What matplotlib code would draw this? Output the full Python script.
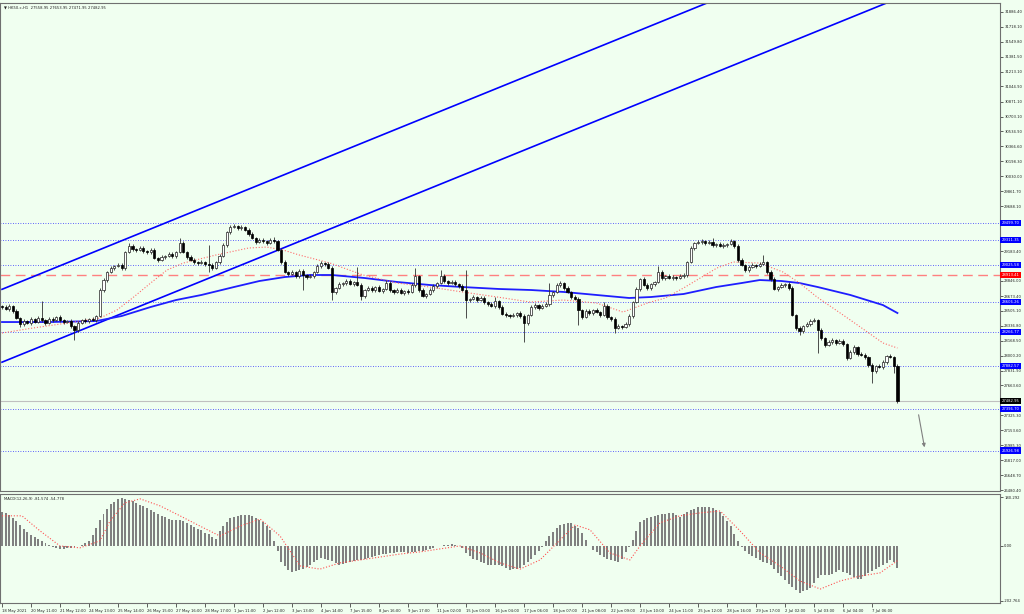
import matplotlib.pyplot as plt
import matplotlib.transforms as mtransforms
import numpy as np

# HK50 H1 candles (one drawn candle per two hours)
first_open = 28560
closes = [
    28550, 28527, 28561, 28505, 28425, 28357, 28391, 28369, 28414, 28380,
    28425, 28403, 28369, 28414, 28403, 28437, 28403, 28380, 28391, 28335,
    28290, 28369, 28403, 28391, 28414, 28403, 28448, 28742, 28855, 28946,
    28991, 29013, 29025, 28991, 29172, 29240, 29206, 29195, 29217, 29184,
    29172, 29195, 29104, 29081, 29115, 29127, 29149, 29127, 29172, 29274,
    29172, 29115, 29081, 29059, 29047, 29059, 29036, 29025, 28991, 29059,
    29127, 29251, 29398, 29455, 29466, 29443, 29455, 29421, 29375, 29330,
    29285, 29308, 29296, 29274, 29308, 29296, 29195, 29059, 28946, 28923,
    28946, 28901, 28957, 28912, 28889, 28901, 28946, 29013, 29047, 29036,
    28991, 28720, 28765, 28810, 28821, 28844, 28810, 28833, 28799, 28674,
    28742, 28765, 28742, 28776, 28731, 28754, 28821, 28742, 28720, 28742,
    28708, 28731, 28720, 28799, 28901, 28742, 28674, 28697, 28742, 28787,
    28821, 28901, 28844, 28821, 28833, 28810, 28787, 28742, 28629, 28640,
    28663, 28629, 28652, 28606, 28584, 28561, 28618, 28550, 28471, 28459,
    28448, 28459, 28482, 28448, 28369, 28459, 28550, 28572, 28539, 28561,
    28584, 28686, 28720, 28799, 28821, 28765, 28720, 28663, 28640, 28516,
    28437, 28505, 28482, 28516, 28493, 28459, 28561, 28437, 28414, 28312,
    28335, 28324, 28357, 28448, 28606, 28754, 28867, 28799, 28765, 28810,
    28833, 28946, 28878, 28901, 28878, 28889, 28878, 28901, 28912, 29059,
    29217, 29274, 29285, 29296, 29274, 29285, 29251, 29262, 29240, 29251,
    29262, 29296, 29240, 29081, 29025, 28968, 29002, 29025, 29013, 29036,
    29059, 28946, 28867, 28754, 28776, 28799, 28810, 28765, 28459, 28312,
    28278, 28335, 28357, 28391, 28403, 28290, 28199, 28120, 28154, 28177,
    28143, 28165, 28131, 27973, 28041, 28098, 28018, 28007, 27984, 27894,
    27826, 27883, 27871, 27928, 27996, 27984, 27883, 27482.95,
]
wick_up = [
    15, 20, 25, 15, 20, 10, 20, 15, 25, 15,
    20, 190, 15, 20, 25, 15, 20, 10, 15, 20,
    15, 20, 10, 25, 15, 20, 15, 20, 25, 15,
    20, 15, 25, 20, 15, 30, 20, 15, 20, 25,
    15, 20, 25, 15, 20, 15, 25, 20, 15, 56,
    20, 15, 25, 20, 15, 20, 15, 215, 20, 15,
    25, 20, 15, 20, 25, 15, 20, 15, 25, 20,
    15, 20, 25, 15, 20, 34, 15, 20, 25, 15,
    20, 15, 20, 25, 15, 20, 15, 25, 20, 15,
    20, 25, 15, 20, 15, 25, 20, 15, 169, 20,
    15, 20, 25, 15, 20, 15, 34, 20, 15, 25,
    20, 15, 20, 25, 90, 15, 20, 15, 25, 20,
    15, 67, 20, 15, 25, 20, 15, 20, 226, 15,
    20, 15, 25, 20, 15, 20, 45, 15, 20, 25,
    15, 20, 15, 25, 20, 15, 20, 25, 15, 20,
    25, 135, 15, 20, 25, 15, 20, 15, 25, 20,
    15, 20, 25, 15, 20, 15, 45, 20, 15, 25,
    20, 15, 20, 25, 15, 20, 15, 25, 20, 15,
    15, 67, 20, 15, 25, 20, 15, 20, 25, 15,
    20, 15, 25, 20, 15, 20, 45, 15, 20, 25,
    15, 20, 15, 25, 20, 15, 20, 25, 15, 20,
    79, 15, 20, 25, 15, 20, 15, 25, 20, 15,
    20, 15, 25, 20, 22, 15, 20, 15, 25, 20,
    15, 20, 25, 15, 20, 22, 15, 20, 25, 15,
    20, 15, 25, 20, 15, 20, 15, 20,
]
wick_dn = [
    20, 15, 20, 25, 15, 30, 20, 15, 20, 15,
    15, 20, 25, 15, 20, 15, 20, 25, 15, 20,
    113, 20, 15, 20, 25, 15, 20, 15, 20, 25,
    15, 20, 15, 25, 20, 15, 20, 25, 15, 20,
    20, 25, 15, 20, 15, 20, 15, 25, 20, 15,
    15, 20, 15, 25, 20, 15, 20, 79, 25, 15,
    20, 15, 25, 20, 15, 20, 25, 15, 20, 15,
    25, 15, 20, 25, 15, 20, 15, 20, 15, 25,
    15, 20, 25, 170, 20, 15, 20, 15, 25, 20,
    15, 91, 20, 15, 25, 20, 15, 20, 15, 45,
    20, 15, 20, 25, 15, 20, 15, 25, 20, 15,
    15, 25, 20, 15, 20, 25, 15, 20, 15, 20,
    20, 15, 25, 20, 15, 20, 25, 15, 204, 20,
    15, 20, 15, 25, 20, 15, 20, 25, 15, 20,
    20, 15, 25, 20, 215, 20, 15, 20, 25, 15,
    15, 20, 25, 15, 20, 25, 15, 20, 15, 170,
    20, 15, 20, 25, 15, 20, 15, 25, 20, 56,
    15, 25, 15, 20, 25, 15, 20, 15, 25, 20,
    20, 15, 25, 20, 15, 20, 25, 15, 20, 25,
    15, 20, 15, 25, 20, 15, 20, 25, 15, 20,
    20, 15, 25, 20, 15, 25, 20, 15, 20, 15,
    15, 20, 25, 15, 20, 15, 25, 20, 15, 20,
    45, 20, 15, 25, 15, 261, 20, 25, 15, 20,
    20, 15, 20, 25, 15, 20, 25, 15, 20, 25,
    136, 20, 15, 25, 20, 15, 79, 20,
]

# moving averages: (candle index, price)
ma_slow_x = [0, 13, 26, 33, 41, 48, 55, 64, 71, 78, 85, 91, 100, 109, 118, 127,
             137, 146, 155, 164, 173, 179, 188, 197, 204, 209, 215, 220, 225, 234, 243, 247]
ma_slow_y = [28380, 28380, 28391, 28448, 28550, 28629, 28686, 28776, 28844, 28889, 28912, 28912,
             28878, 28833, 28799, 28776, 28754, 28742, 28720, 28686, 28652, 28663, 28697, 28776,
             28821, 28855, 28844, 28821, 28776, 28686, 28572, 28482]
ma_fast_x = [0, 8.5, 18, 27, 31.7, 36, 41, 45.5, 50, 59, 68, 73, 77.5, 82, 90.5, 99.6, 109,
             118, 127, 136.6, 145.7, 154.8, 164, 171.3, 178, 183, 188, 192.6, 197.2, 201.7,
             209, 215.4, 220, 224.8, 234, 243, 247]
ma_fast_y = [28256, 28312, 28369, 28425, 28516, 28652, 28821, 28968, 29047, 29138, 29217, 29228,
             29195, 29138, 29047, 28912, 28821, 28776, 28720, 28663, 28606, 28629, 28595, 28493,
             28595, 28652, 28765, 28878, 28991, 29059, 29047, 28946, 28821, 28663, 28403, 28143,
             28086]

# trend channel anchors (candle index, price)
upper_line = [(0, 28750), (200, 32080)]
lower_line = [(0, 27926), (250, 32088)]
arrow_from = (252.7, 27362)
arrow_to = (254.6, 26932)

levels = [29499.70, 29311.35, 29025.58, 28606.26, 28266.77, 27882.57, 27396.70, 26926.98]
red_level = 28913.41
last_price = 27482.95

# price scale labels that are not covered by the level boxes
price_ticks = [31886.40, 31718.10, 31549.80, 31381.50, 31213.10, 31044.90, 30871.10, 30703.10,
               30534.90, 30366.60, 30198.30, 30030.00, 29861.70, 29688.10,
               29183.40, 28846.00, 28673.40, 28505.10, 28336.80, 28168.50, 28000.20,
               27831.90, 27663.60, 27325.30, 27153.60, 26985.30, 26817.00, 26648.70,
               26480.40]

# MACD(12,26,9) main values per candle
macd = [
    127, 122, 116, 104, 91, 78, 64, 51, 40, 32,
    25, 18, 10, 2, -3, -7, -11, -10, -8, -7,
    -4, -1, 3, 10, 17, 40, 68, 96, 117, 137,
    155, 165, 175, 178, 176, 172, 168, 160, 154, 147,
    140, 133, 126, 119, 113, 106, 99, 97, 97, 97,
    91, 84, 77, 71, 64, 58, 50, 43, 32, 26,
    55, 74, 90, 104, 109, 113, 115, 115, 115, 112,
    104, 98, 88, 74, 58, 20, -20, -58, -75, -90,
    -96, -94, -90, -86, -79, -71, -61, -51, -46, -48,
    -51, -56, -63, -70, -68, -64, -60, -57, -54, -51,
    -47, -43, -40, -37, -34, -31, -29, -26, -25, -23,
    -22, -24, -26, -24, -22, -19, -17, -14, -11, -7,
    -2, 1, 3, 5, 6, 3, 1, -8, -28, -38,
    -48, -54, -60, -65, -69, -71, -71, -71, -75, -82,
    -88, -87, -84, -81, -70, -59, -47, -34, -20, -3,
    17, 37, 52, 65, 78, 82, 86, 86, 75, 65,
    47, 23, -2, -15, -24, -33, -40, -47, -53, -56,
    -59, -48, -21, -4, 24, 57, 89, 96, 103, 108,
    111, 114, 117, 120, 124, 121, 115, 109, 117, 127,
    135, 139, 143, 145, 145, 145, 141, 134, 127, 110,
    92, 75, 45, 17, -5, -17, -29, -37, -44, -51,
    -58, -65, -72, -85, -100, -113, -126, -140, -152, -163,
    -174, -169, -162, -155, -137, -120, -108, -108, -108, -104,
    -97, -90, -95, -102, -108, -115, -122, -123, -111, -100,
    -94, -87, -80, -71, -62, -52, -60, -82,
]
signal_x = [0, 5.5, 10.5, 16, 21.5, 27, 29.8, 33.9, 38.1, 43.6, 49.1, 54.6, 60.1, 65.7, 71.2,
            76.7, 82.2, 87.7, 93.2, 98.8, 104.3, 109.8, 115.3, 120.8, 126.3, 131.9, 137.4, 142.9,
            148.4, 153.9, 158.1, 162.2, 167.7, 173.2, 176, 181.5, 187, 192.6, 198.1, 203.6,
            209.1, 214.6, 220.1, 225.7, 231.2, 236.7, 242.2, 247]
signal_y = [112, 112, 56, 0, -7, 19, 93, 160, 175, 149, 112, 74, 37, 74, 100, 37, -74, -86, -63,
            -52, -41, -30, -22, -11, 0, -26, -63, -86, -52, 22, 78, 60, -26, -52, 0, 86, 112,
            123, 130, 56, -26, -74, -130, -160, -130, -112, -100, -54.778]

tick_pos = list(range(0, 241, 8))
tick_labels = ['18 May 2021', '20 May 11:00', '21 May 12:00', '24 May 13:00', '25 May 14:00',
               '26 May 15:00', '27 May 16:00', '28 May 17:00', '1 Jun 11:00', '2 Jun 12:00',
               '3 Jun 13:00', '4 Jun 14:00', '7 Jun 15:00', '8 Jun 16:00', '9 Jun 17:00',
               '11 Jun 02:00', '15 Jun 03:00', '16 Jun 04:00', '17 Jun 06:00', '18 Jun 07:00',
               '21 Jun 08:00', '22 Jun 09:00', '23 Jun 10:00', '24 Jun 11:00', '25 Jun 12:00',
               '28 Jun 16:00', '29 Jun 17:00', '2 Jul 02:00', '5 Jul 03:00', '6 Jul 04:00',
               '7 Jul 06:00']

BG = '#F0FFF0'
FS = 2.7

fig = plt.figure(figsize=(10.24, 6.14), dpi=100, facecolor=BG)
ax = fig.add_axes([0.0, 0.2003, 0.9766, 0.7948], facecolor=BG)
ax2 = fig.add_axes([0.0, 0.0179, 0.9766, 0.1775], facecolor=BG)

for a in (ax, ax2):
    a.set_xlim(-0.55, 275.3)
    for s in a.spines.values():
        s.set_color('#707070')
        s.set_linewidth(0.8)
    a.yaxis.tick_right()
    a.tick_params(axis='y', labelsize=FS, length=2, width=0.5, pad=1, colors='#202020')

ax.set_ylim(26469, 31988)
ax.set_xticks([])
ax.set_yticks(price_ticks)
ax.set_yticklabels([f'{v:.2f}' for v in price_ticks])

# levels
trans = mtransforms.blended_transform_factory(ax.transAxes, ax.transData)
for lv in levels:
    ax.axhline(lv, color='#3030FF', lw=0.6, ls=(0, (1, 2)), zorder=1)
    ax.text(1.0015, lv, f'{lv:.2f}', transform=trans, fontsize=FS, color='white', va='center',
            ha='left', clip_on=False, zorder=6,
            bbox=dict(boxstyle='square,pad=0.3', fc='#0000FF', ec='none'))
ax.axhline(red_level, color='#FF8080', lw=1.0, ls=(0, (7, 4)), zorder=1)
ax.text(1.0015, red_level, f'{red_level:.2f}', transform=trans, fontsize=FS, color='white',
        va='center', ha='left', clip_on=False, zorder=6,
        bbox=dict(boxstyle='square,pad=0.3', fc='#FF0000', ec='none'))
ax.axhline(last_price, color='#C0C0C0', lw=0.8, zorder=1)
ax.text(1.0015, last_price, f'{last_price:.2f}', transform=trans, fontsize=FS, color='white',
        va='center', ha='left', clip_on=False, zorder=6,
        bbox=dict(boxstyle='square,pad=0.3', fc='#000000', ec='none'))

# channel lines
for (x0, y0), (x1, y1) in (upper_line, lower_line):
    ax.plot([x0, x1], [y0, y1], color='#0000FF', lw=1.2, zorder=2)

# moving averages
ax.plot(ma_slow_x, ma_slow_y, color='#1E1EFF', lw=1.3, zorder=3)
ax.plot(ma_fast_x, ma_fast_y, color='#FF6A6A', lw=0.8, ls=':', zorder=3)

# candles
xs = np.arange(len(closes))
opens = np.array([first_open] + closes[:-1])
cl = np.array(closes)
hi = np.maximum(opens, cl) + np.array(wick_up)
lo = np.minimum(opens, cl) - np.array(wick_dn)
ax.vlines(xs, lo, hi, color='#303030', lw=0.6, zorder=4)
bull = cl >= opens
ax.bar(xs[bull], (cl - opens)[bull], bottom=opens[bull], width=0.6, color='white',
       edgecolor='#202020', linewidth=0.5, zorder=5)
ax.bar(xs[~bull], (cl - opens)[~bull], bottom=opens[~bull], width=0.6, color='black',
       edgecolor='black', linewidth=0.5, zorder=5)

ax.annotate('', xy=arrow_to, xytext=arrow_from,
            arrowprops=dict(arrowstyle='-|>', color='#808080', lw=0.8, mutation_scale=5))

ax.text(0.004, 0.995, '\u25bc HK50.c,H1  27558.95 27653.95 27471.95 27482.95',
        transform=ax.transAxes, fontsize=FS, va='top', ha='left', color='#202020')

# MACD panel
ax2.set_ylim(-212, 193)
ax2.bar(np.arange(len(macd)), macd, width=0.55, color='#808080', zorder=2)
ax2.plot(signal_x, signal_y, color='#FF5050', lw=0.8, ls=':', zorder=3)
ax2.set_yticks([180.292, 0, -202.764])
ax2.set_yticklabels(['180.292', '0.00', '-202.764'])
ax2.text(0.004, 0.97, 'MACD(12,26,9) -81.574 -54.778', transform=ax2.transAxes,
         fontsize=FS, va='top', ha='left', color='#202020')
ax2.set_xticks(tick_pos)
ax2.set_xticklabels(tick_labels)
ax2.tick_params(axis='x', labelsize=FS, length=3, width=0.5, pad=1, colors='#202020')
for lbl in ax2.get_xticklabels():
    lbl.set_ha('left')

fig.savefig('out.png', dpi=100, facecolor=BG)
